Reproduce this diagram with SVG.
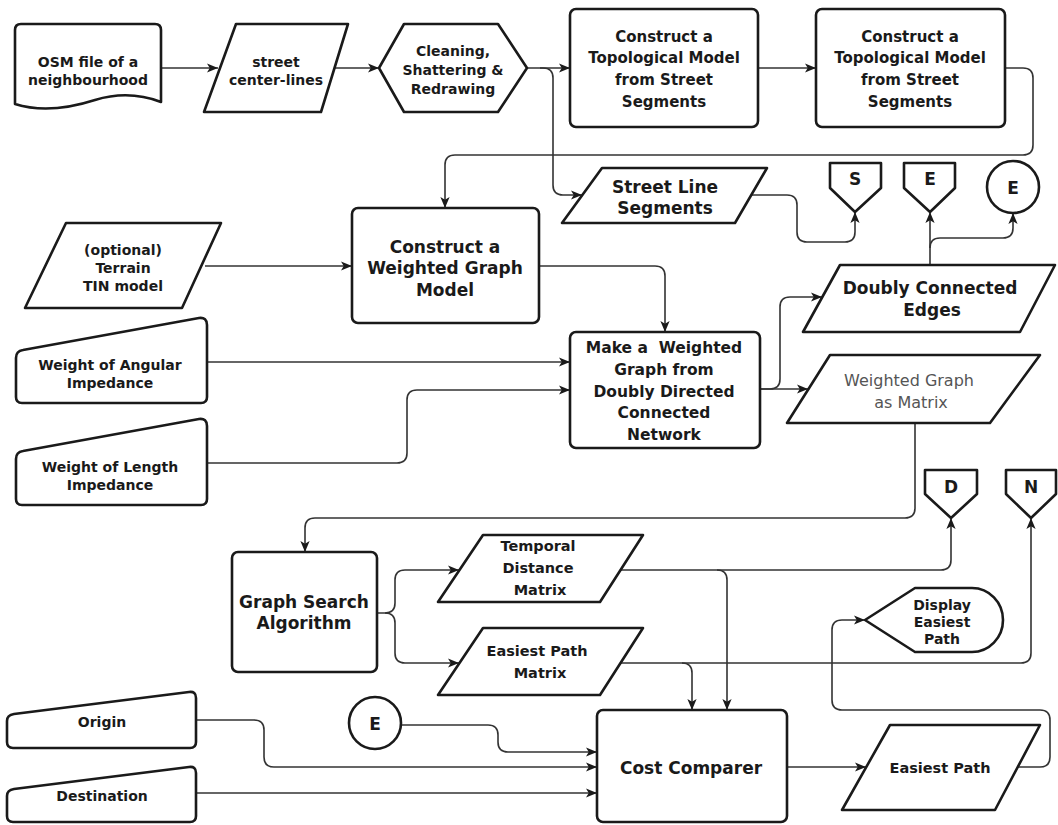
<svg xmlns="http://www.w3.org/2000/svg" width="1058" height="825" viewBox="0 0 1058 825">
<style>
.n{fill:#fff;stroke:#1a1a1a;stroke-width:2.6;stroke-linejoin:round}
.c{fill:none;stroke:#333;stroke-width:1.6}
text{font-family:"DejaVu Sans","Liberation Sans",sans-serif;font-weight:bold;fill:#1a1a1a;text-anchor:middle;dominant-baseline:central}
.t14{font-size:14px}.t145{font-size:14.5px}.t15{font-size:15px}.t155{font-size:15.5px}.t17{font-size:17px}
.g{font-weight:normal;fill:#555;font-size:16px}
</style>
<defs>
<marker id="ah" viewBox="0 0 10 10" refX="10" refY="5" markerWidth="11" markerHeight="11" markerUnits="userSpaceOnUse" orient="auto"><path d="M0,0.8 L10,5 L0,9.2 L2.5,5 Z" fill="#1a1a1a"/></marker>
</defs>
<rect width="1058" height="825" fill="#fff"/>
<g id="connectors" marker-end="url(#ah)">
<path class="c" d="M161,68 H218"/>
<path class="c" d="M334,68 H379"/>
<path class="c" d="M527,68 H570"/>
<path class="c" d="M540,68 H543 Q553,68 553,78 V185 Q553,195 563,195 H582"/>
<path class="c" d="M758,68 H816"/>
<path class="c" d="M1005,68 H1023 Q1033,68 1033,78 V145 Q1033,155 1023,155 H455 Q445,155 445,165 V208"/>
<path class="c" d="M750,195 H787 Q797,195 797,205 V232 Q797,242 807,242 H845 Q855,242 855,232 V212"/>
<path class="c" d="M930,265 V212"/>
<path class="c" d="M930,248 Q930,238 940,238 H1003 Q1013,238 1013,228 V213"/>
<path class="c" d="M205,266 H352"/>
<path class="c" d="M539,266 H655 Q665,266 665,276 V332"/>
<path class="c" d="M207,362 H570"/>
<path class="c" d="M207,463 H397 Q407,463 407,453 V400 Q407,390 417,390 H570"/>
<path class="c" d="M760,389 H770 Q780,389 780,379 V307 Q780,297 790,297 H822"/>
<path class="c" d="M760,389 H808"/>
<path class="c" d="M915,423 V508 Q915,518 905,518 H315 Q305,518 305,528 V552"/>
<path class="c" d="M377,613 H385 Q395,613 395,603 V580 Q395,570 405,570 H459"/>
<path class="c" d="M385,613 Q395,613 395,623 V653 Q395,663 405,663 H459"/>
<path class="c" d="M621,570 H941 Q951,570 951,560 V518"/>
<path class="c" d="M717,570 Q727,570 727,580 V710"/>
<path class="c" d="M620,663 H1021 Q1031,663 1031,653 V518"/>
<path class="c" d="M682,663 Q692,663 692,673 V710"/>
<path class="c" d="M196,720 H254 Q264,720 264,730 V757 Q264,767 274,767 H597"/>
<path class="c" d="M401,725 H488 Q498,725 498,735 V742 Q498,752 508,752 H597"/>
<path class="c" d="M196,793 H597"/>
<path class="c" d="M787,767 H866"/>
<path class="c" d="M1018,767 H1040 Q1050,767 1050,757 V720 Q1050,710 1040,710 H842 Q832,710 832,700 V630 Q832,620 842,620 H865"/>
</g>
<g id="osm"><path class="n" d="M15,30 Q15,24 21,24 H155 Q161,24 161,30 V102 C140,94 118,93 95,100 C70,108 40,112 15,104 Z"/>
<text class="t14" x="88" y="62">OSM file of a</text><text class="t14" x="88" y="80">neighbourhood</text></g>
<g id="centerlines"><path class="n" d="M236,24 H348 L321,112 H204 Z"/>
<text class="t14" x="276" y="62">street</text><text class="t14" x="276" y="80">center-lines</text></g>
<g id="cleaning"><path class="n" d="M379,68 L404,24 H498 L527,68 L498,112 H404 Z"/>
<text class="t14" x="453" y="51">Cleaning,</text><text class="t14" x="453" y="70">Shattering &amp;</text><text class="t14" x="453" y="89">Redrawing</text></g>
<g id="topo1"><rect class="n" x="570" y="9" width="188" height="118" rx="6"/>
<text class="t15" x="664" y="37">Construct a</text><text class="t15" x="664" y="58">Topological Model</text><text class="t15" x="664" y="80">from Street</text><text class="t15" x="664" y="102">Segments</text></g>
<g id="topo2"><rect class="n" x="816" y="9" width="189" height="118" rx="6"/>
<text class="t15" x="910" y="37">Construct a</text><text class="t15" x="910" y="58">Topological Model</text><text class="t15" x="910" y="80">from Street</text><text class="t15" x="910" y="102">Segments</text></g>
<g id="streetline"><path class="n" d="M602,168 H767 L735,223 H562 Z"/>
<text class="t17" x="665" y="187">Street Line</text><text class="t17" x="665" y="208">Segments</text></g>
<g id="offS"><path class="n" d="M830,163 H881 V188 L855,212 L830,188 Z"/><text class="t17" x="855" y="179">S</text></g>
<g id="offE"><path class="n" d="M904,163 H955 V188 L930,212 L904,188 Z"/><text class="t17" x="930" y="179">E</text></g>
<g id="conE1"><circle class="n" cx="1013" cy="187" r="26"/><text class="t17" x="1013" y="188">E</text></g>
<g id="terrain"><path class="n" d="M66,223 H221 L182,308 H25 Z"/>
<text class="t14" x="123" y="250">(optional)</text><text class="t14" x="123" y="268">Terrain</text><text class="t14" x="123" y="286">TIN model</text></g>
<g id="wgm"><rect class="n" x="352" y="208" width="187" height="115" rx="6"/>
<text class="t17" x="445" y="247">Construct a</text><text class="t17" x="445" y="268">Weighted Graph</text><text class="t17" x="445" y="290">Model</text></g>
<g id="dce"><path class="n" d="M840,265 H1055 L1020,332 H803 Z"/>
<text class="t17" x="930" y="288">Doubly Connected</text><text class="t17" x="932" y="310">Edges</text></g>
<g id="angular"><path class="n" d="M16,358 Q16,351 23,350 L199,318 Q207,317 207,325 V397 Q207,403 201,403 H22 Q16,403 16,397 Z"/>
<text class="t14" x="110" y="365">Weight of Angular</text><text class="t14" x="110" y="383">Impedance</text></g>
<g id="length"><path class="n" d="M16,459 Q16,452 23,451 L199,419 Q207,418 207,426 V499 Q207,505 201,505 H22 Q16,505 16,499 Z"/>
<text class="t14" x="110" y="467">Weight of Length</text><text class="t14" x="110" y="485">Impedance</text></g>
<g id="make"><rect class="n" x="570" y="332" width="190" height="116" rx="6"/>
<text class="t155" x="664" y="348">Make a&#160; Weighted</text><text class="t155" x="664" y="370">Graph from</text><text class="t155" x="664" y="392">Doubly Directed</text><text class="t155" x="664" y="413">Connected</text><text class="t155" x="664" y="435">Network</text></g>
<g id="matrix"><path class="n" d="M830,355 H1040 L990,423 H787 Z"/>
<text class="g" x="909" y="380">Weighted Graph</text><text class="g" x="911" y="402">as Matrix</text></g>
<g id="offD"><path class="n" d="M925,470 H977 V494 L951,518 L925,494 Z"/><text class="t17" x="951" y="487">D</text></g>
<g id="offN"><path class="n" d="M1006,470 H1056 V494 L1031,518 L1006,494 Z"/><text class="t17" x="1031" y="487">N</text></g>
<g id="search"><rect class="n" x="232" y="552" width="145" height="120" rx="6"/>
<text class="t17" x="304" y="602">Graph Search</text><text class="t17" x="304" y="623">Algorithm</text></g>
<g id="temporal"><path class="n" d="M483,535 H643 L600,602 H438 Z"/>
<text class="t145" x="538" y="546">Temporal</text><text class="t145" x="538" y="568">Distance</text><text class="t145" x="540" y="590">Matrix</text></g>
<g id="epm"><path class="n" d="M483,628 H643 L600,695 H438 Z"/>
<text class="t145" x="537" y="651">Easiest Path</text><text class="t145" x="540" y="673">Matrix</text></g>
<g id="display"><path class="n" d="M865,620 L915,588 H972 A31,32 0 0 1 972,652 H915 Z"/>
<text class="t14" x="942" y="605">Display</text><text class="t14" x="942" y="622">Easiest</text><text class="t14" x="942" y="639">Path</text></g>
<g id="origin"><path class="n" d="M7,721 Q7,715 14,714 L189,692 Q196,691 196,698 V742 Q196,748 190,748 H13 Q7,748 7,742 Z"/>
<text class="t14" x="102" y="722">Origin</text></g>
<g id="destination"><path class="n" d="M7,796 Q7,790 14,789 L189,767 Q196,766 196,773 V816 Q196,822 190,822 H13 Q7,822 7,816 Z"/>
<text class="t14" x="102" y="796">Destination</text></g>
<g id="conE2"><circle class="n" cx="375" cy="723" r="26"/><text class="t17" x="375" y="724">E</text></g>
<g id="cost"><rect class="n" x="597" y="710" width="190" height="112" rx="6"/>
<text class="t17" x="691" y="768">Cost Comparer</text></g>
<g id="easiest"><path class="n" d="M890,725 H1040 L995,810 H842 Z"/>
<text class="t145" x="940" y="768">Easiest Path</text></g>
</svg>
